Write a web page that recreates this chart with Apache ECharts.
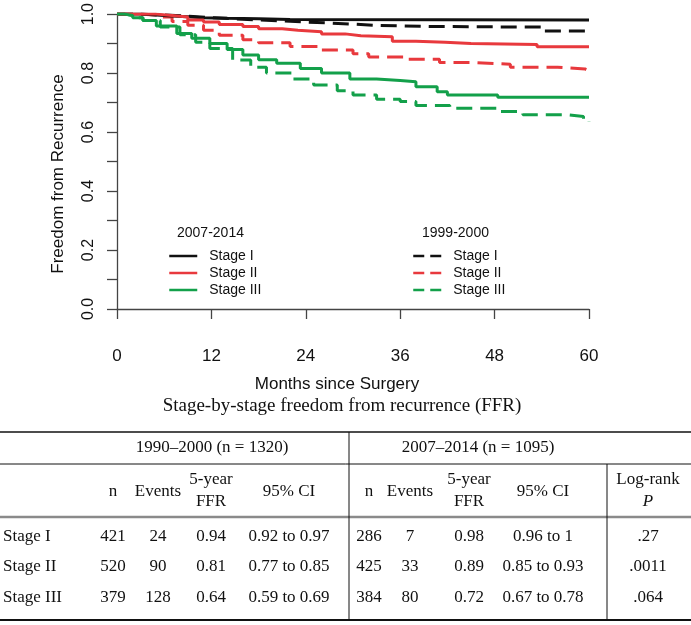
<!DOCTYPE html>
<html>
<head>
<meta charset="utf-8">
<script src="https://cdn.jsdelivr.net/npm/echarts@6/dist/echarts.min.js"></script>
<style>
html,body{margin:0;padding:0;background:#fff;}
#chart{width:691px;height:625px;}
</style>
</head>
<body>
<div id="chart"></div>
<script>
// ---- Curve data (months, freedom from recurrence) ----
const t_s1_new = [0, 3, 5, 7, 9, 11, 14, 18, 22, 60];
const v_s1_new = [1, 0.997, 0.994, 0.991, 0.988, 0.986, 0.984, 0.982, 0.98, 0.98];
const t_s2_new = [0, 5, 7, 9, 11, 13, 16, 18, 21, 23, 26, 29, 31, 35, 38, 41.7, 45, 53.4, 60];
const v_s2_new = [1, 0.995, 0.99, 0.98, 0.973, 0.965, 0.958, 0.95, 0.945, 0.94, 0.933, 0.927, 0.923, 0.908, 0.905, 0.9, 0.897, 0.889, 0.889];
const t_s3_new = [0, 1, 2, 3.3, 5, 7.6, 9.5, 11.8, 14, 16, 18, 20.3, 23.3, 26, 29.6, 33, 36, 38, 40.7, 42, 48.4, 60];
const v_s3_new = [1, 0.995, 0.988, 0.978, 0.96, 0.934, 0.918, 0.9, 0.88, 0.861, 0.845, 0.833, 0.816, 0.8, 0.78, 0.775, 0.771, 0.754, 0.737, 0.726, 0.718, 0.718];

const t_s1_old = [0, 3, 6, 9, 12, 15, 18, 21, 24, 27, 30, 33, 40, 54, 60];
const v_s1_old = [1, 0.997, 0.993, 0.988, 0.984, 0.98, 0.977, 0.973, 0.97, 0.966, 0.962, 0.958, 0.956, 0.943, 0.94];
const t_s2_old = [0, 3, 5, 7, 9, 11, 13, 16, 18, 22, 26, 30, 32, 37, 41, 45, 50, 56, 59.5, 60];
const v_s2_old = [1, 0.997, 0.99, 0.975, 0.962, 0.945, 0.928, 0.913, 0.903, 0.89, 0.878, 0.866, 0.855, 0.847, 0.836, 0.83, 0.82, 0.814, 0.808, 0.808];
const t_s3_old = [0, 1, 2, 3.3, 5.5, 8, 10, 11.8, 14.7, 17, 19, 22.4, 25, 28, 30, 33, 36, 38, 42.3, 48.3, 51.6, 57.2, 59.3, 60];
const v_s3_old = [1, 0.995, 0.988, 0.978, 0.956, 0.93, 0.905, 0.883, 0.844, 0.82, 0.8, 0.78, 0.76, 0.74, 0.726, 0.711, 0.704, 0.69, 0.681, 0.67, 0.659, 0.653, 0.642, 0.636];

const stageNames = ['Stage I', 'Stage II', 'Stage III'];
const periodNew = '2007-2014';
const periodOld = '1999-2000';
const xTicks = [0, 12, 24, 36, 48, 60];
const yTicks = [0, 0.2, 0.4, 0.6, 0.8, 1.0];
const xTitle = 'Months since Surgery';
const yTitle = 'Freedom from Recurrence';

// ---- Table data ----
const tableTitle = 'Stage-by-stage freedom from recurrence (FFR)';
const periodHeaders = ['1990\u20132000 (n = 1320)', '2007\u20132014 (n = 1095)'];
const n_old = ['421', '520', '379'];
const events_old = ['24', '90', '128'];
const ffr_old = ['0.94', '0.81', '0.64'];
const ci_old = ['0.92 to 0.97', '0.77 to 0.85', '0.59 to 0.69'];
const n_new = ['286', '425', '384'];
const events_new = ['7', '33', '80'];
const ffr_new = ['0.98', '0.89', '0.72'];
const ci_new = ['0.96 to 1', '0.85 to 0.93', '0.67 to 0.78'];
const logrankP = ['.27', '.0011', '.064'];

// ---- styles ----
const colors = ['#111111', '#e8393d', '#13a04a'];
const SANS = '"Liberation Sans", Arial, sans-serif';
const SERIF = '"Liberation Serif", "Times New Roman", serif';

function pts(t, v) { return t.map((x, i) => [x, v[i]]); }

const newSets = [[t_s1_new, v_s1_new], [t_s2_new, v_s2_new], [t_s3_new, v_s3_new]];
const oldSets = [[t_s1_old, v_s1_old], [t_s2_old, v_s2_old], [t_s3_old, v_s3_old]];

const series = [];
oldSets.forEach((s, i) => {
  series.push({
    name: periodOld + '|' + stageNames[i], type: 'line', step: 'end',
    symbol: 'circle', showSymbol: false, symbolSize: 0,
    data: pts(s[0], s[1]), silent: true, z: 2,
    lineStyle: { color: colors[i], width: 3, type: [16, 8] },
    itemStyle: { color: colors[i] }
  });
});
newSets.forEach((s, i) => {
  series.push({
    name: periodNew + '|' + stageNames[i], type: 'line', step: 'end',
    symbol: 'circle', showSymbol: false, symbolSize: 0,
    data: pts(s[0], s[1]), silent: true, z: 3,
    lineStyle: { color: colors[i], width: 3, type: 'solid' },
    itemStyle: { color: colors[i] }
  });
});

// ---- table graphics ----
const graphics = [];
function txt(x, y, text, opts) {
  opts = opts || {};
  graphics.push({
    type: 'text', x: x, y: y, silent: true,
    style: {
      text: text, fill: '#111',
      font: (opts.italic ? 'italic ' : '') + (opts.size || 17) + 'px ' + (opts.family || SERIF),
      textAlign: opts.align || 'center', textVerticalAlign: 'middle'
    }
  });
}
function hline(x1, x2, y, w, c) {
  graphics.push({ type: 'line', silent: true, shape: { x1: x1, y1: y, x2: x2, y2: y }, style: { stroke: c || '#111', lineWidth: w || 1 } });
}
function vline(x, y1, y2, w, c) {
  graphics.push({ type: 'line', silent: true, shape: { x1: x, y1: y1, x2: x, y2: y2 }, style: { stroke: c || '#111', lineWidth: w || 1 } });
}

// legend titles
txt(177, 233, periodNew, { family: SANS, size: 14, align: 'left' });
txt(422, 233, periodOld, { family: SANS, size: 14, align: 'left' });

// table
txt(342, 406, tableTitle, { size: 19 });
hline(0, 691, 432, 1.5);
hline(0, 691, 464, 1);
hline(0, 691, 517, 2.5, '#8a8a8a');
hline(0, 691, 620, 2);
vline(349, 432, 620, 1);
vline(607, 464, 620, 1);

const colX = [113, 158, 211, 289, 369, 410, 469, 543, 648];
txt(212, 448, periodHeaders[0]);
txt(478, 448, periodHeaders[1]);
const hdrY = 492;
[0, 4].forEach(o => {
  txt(colX[o], hdrY, 'n');
  txt(colX[o + 1], hdrY, 'Events');
  txt(colX[o + 2], 480, '5-year');
  txt(colX[o + 2], 502, 'FFR');
  txt(colX[o + 3], hdrY, '95% CI');
});
txt(colX[8], 480, 'Log-rank');
txt(colX[8], 502, 'P', { italic: true });

const rowY = [537, 567, 598];
stageNames.forEach((s, i) => {
  const y = rowY[i];
  txt(3, y, s, { align: 'left' });
  const vals = [n_old[i], events_old[i], ffr_old[i], ci_old[i], n_new[i], events_new[i], ffr_new[i], ci_new[i], logrankP[i]];
  vals.forEach((v, j) => txt(colX[j], y, v));
});

const legendBase = {
  orient: 'vertical', itemWidth: 28, itemHeight: 14, itemGap: 3, top: 244,
  selectedMode: false, padding: 5,
  itemStyle: { opacity: 0, borderWidth: 0 },
  formatter: n => n.split('|')[1],
  textStyle: { fontSize: 14, color: '#111', fontFamily: SANS, padding: [0, 0, 0, 7] }
};

const chart = echarts.init(document.getElementById('chart'), null, { renderer: 'canvas' });
chart.setOption({
  animation: false,
  backgroundColor: '#fff',
  textStyle: { fontFamily: SANS },
  grid: { left: 117, right: 102, top: 12, bottom: 316, containLabel: false },
  xAxis: {
    type: 'value', min: 0, max: 60, interval: 12, offset: 13,
    name: xTitle, nameLocation: 'middle', nameGap: 54,
    nameTextStyle: { fontSize: 17, color: '#111', fontFamily: SANS, padding: [0, 32, 0, 0] },
    axisLine: { show: true, lineStyle: { color: '#444', width: 1.3 } },
    axisTick: { show: true, length: 10, lineStyle: { color: '#444', width: 1.3 } },
    axisLabel: { fontSize: 17, color: '#111', margin: 26, formatter: v => (xTicks.indexOf(v) >= 0 ? String(v) : '') },
    splitLine: { show: false }
  },
  yAxis: {
    type: 'value', min: 0, max: 1, interval: 0.1,
    name: yTitle, nameLocation: 'middle', nameGap: 50, nameRotate: 90,
    nameTextStyle: { fontSize: 17, color: '#111', fontFamily: SANS, padding: [0, 25, 0, 0] },
    axisLine: { show: true, lineStyle: { color: '#444', width: 1.3 } },
    axisTick: { show: true, length: 10, lineStyle: { color: '#444', width: 1.3 } },
    axisLabel: {
      fontSize: 16, color: '#111', margin: 20, rotate: 90,
      formatter: v => { const r = Math.round(v * 10) / 10; return yTicks.some(t => Math.abs(t - r) < 1e-9) ? r.toFixed(1) : ''; }
    },
    splitLine: { show: false }
  },
  legend: [
    Object.assign({}, legendBase, {
      left: 163,
      data: stageNames.map(s => periodNew + '|' + s),
      lineStyle: { width: 2.5 }
    }),
    Object.assign({}, legendBase, {
      left: 407,
      data: stageNames.map(s => periodOld + '|' + s),
      lineStyle: { width: 2.5, type: [11, 6] }
    })
  ],
  graphic: graphics,
  series: series
});
</script>
</body>
</html>
